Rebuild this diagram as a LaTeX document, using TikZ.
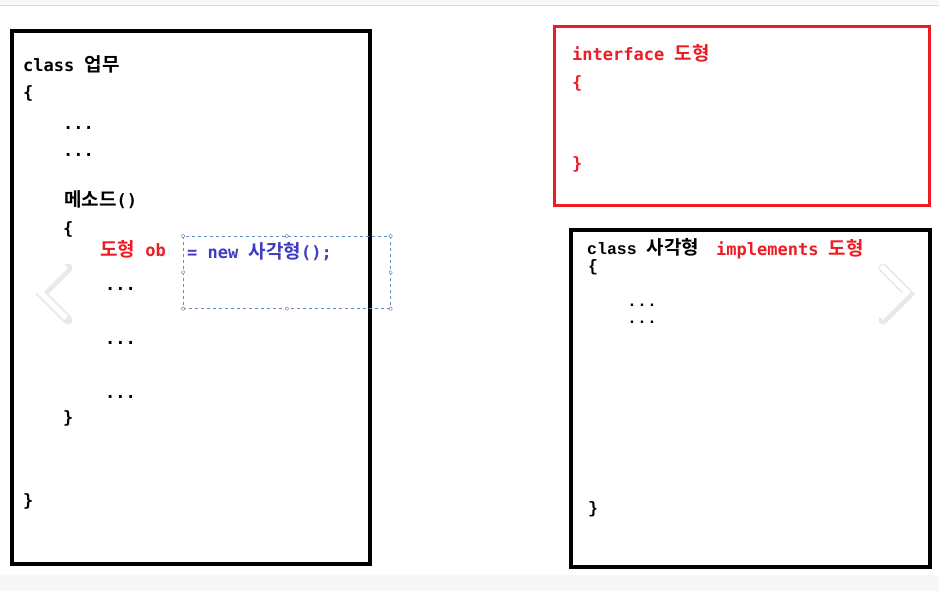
\documentclass[tikz,border=0pt]{standalone}
\usepackage{fontspec}
\setmonofont{DejaVu Sans Mono}
\newfontfamily\krfont{Noto Sans CJK KR}[BoldFont={* Bold}]
\newfontfamily\smallmono{Liberation Mono}
\newcommand{\kr}[1]{{\krfont\bfseries\fontsize{19}{17}\selectfont #1}}
\definecolor{codered}{HTML}{ED1C24}
\definecolor{codeblue}{HTML}{3C3CC4}
\definecolor{selblue}{HTML}{5A8FC8}
\tikzset{
  code/.style={anchor=base west, inner sep=0pt, font=\ttfamily\bfseries\fontsize{17}{17}\selectfont},
  smallcode/.style={anchor=base west, inner sep=0pt, font=\smallmono\bfseries\fontsize{16.5}{16}\selectfont},
  handle/.style={draw=gray, fill=white, line width=0.5pt, minimum size=3pt, inner sep=0pt, rectangle, rounded corners=1pt},
  chevron/.style={line width=5.5pt, white, line cap=butt},
  chevshadow/.style={line width=9pt, black!9, line cap=round}
}
\begin{document}
\begin{tikzpicture}[x=1pt,y=-1pt]
\useasboundingbox (0,0) rectangle (939,591);
% top and bottom bands
\fill[white] (0,0) rectangle (939,591);
\fill[gray!6] (0,0) rectangle (939,5);
\draw[color={rgb,255:red,214;green,218;blue,232}, line width=1pt] (0,5.5) -- (939,5.5);
\fill[gray!6] (0,575) rectangle (939,591);

% boxes
\draw[line width=4pt] (12,31) rectangle (370,564);
\draw[codered, line width=3.5pt] (554.5,26.5) rectangle (929.5,205.5);
\draw[line width=3.5pt] (571,230) rectangle (930,567);

% left box code
\node[code] (c1) at (23,72) {class \kr{업무}};
\node[code] (c2) at (23,99) {\{};
\node[code] (c3) at (63,129) {...};
\node[code] (c4) at (63,156) {...};
\node[code] (c5) at (64,206) {\kr{메소드}()};
\node[code] (c6) at (63,234) {\{};
\node[code, text=codered] (c7) at (100,256) {\kr{도형} ob};
\node[code, text=codeblue] (c8) at (187,258) {= new \kr{사각형}();};
\node[code] (c9) at (105,290) {...};
\node[code] (c10) at (105,344) {...};
\node[code] (c11) at (105,398) {...};
\node[code] (c12) at (63,423) {\}};
\node[code] (c13) at (23,506) {\}};

% selection box
\node[draw=selblue, dashed, line width=0.7pt, minimum width=207pt, minimum height=72pt, inner sep=0pt, anchor=north west] (sel) at (183,236) {};
\foreach \a in {north west,north,north east,west,east,south west,south,south east}
  \node[handle] at (sel.\a) {};

% interface box
\node[code, text=codered] (i1) at (572,61) {interface \kr{도형}};
\node[code, text=codered] (i2) at (572,89) {\{};
\node[code, text=codered] (i3) at (572,169) {\}};

% class box
\node[smallcode] (r1) at (587,254) {class {\krfont\bfseries\fontsize{19}{16}\selectfont 사각형}};
\node[code, text=codered] (r2) at (716,255) {implements \kr{도형}};
\node[smallcode] (r3) at (588,271) {\{};
\node[smallcode] (r4) at (627,306) {...};
\node[smallcode] (r5) at (627,323) {...};
\node[smallcode] (r6) at (588,513) {\}};

% navigation chevrons
\coordinate (la) at (66,266);
\coordinate (lb) at (40,292);
\coordinate (lc) at (66,318);
\coordinate (ra) at (881,266);
\coordinate (rb) at (907,292);
\coordinate (rc) at (881,318);
\draw[chevshadow] ([shift={(2,2)}]la) -- ([shift={(2,2)}]lb) -- ([shift={(2,2)}]lc);
\draw[chevshadow] ([shift={(2,2)}]ra) -- ([shift={(2,2)}]rb) -- ([shift={(2,2)}]rc);
\draw[chevron] (la) -- (lb) -- (lc);
\draw[chevron] (ra) -- (rb) -- (rc);
\end{tikzpicture}
\end{document}
